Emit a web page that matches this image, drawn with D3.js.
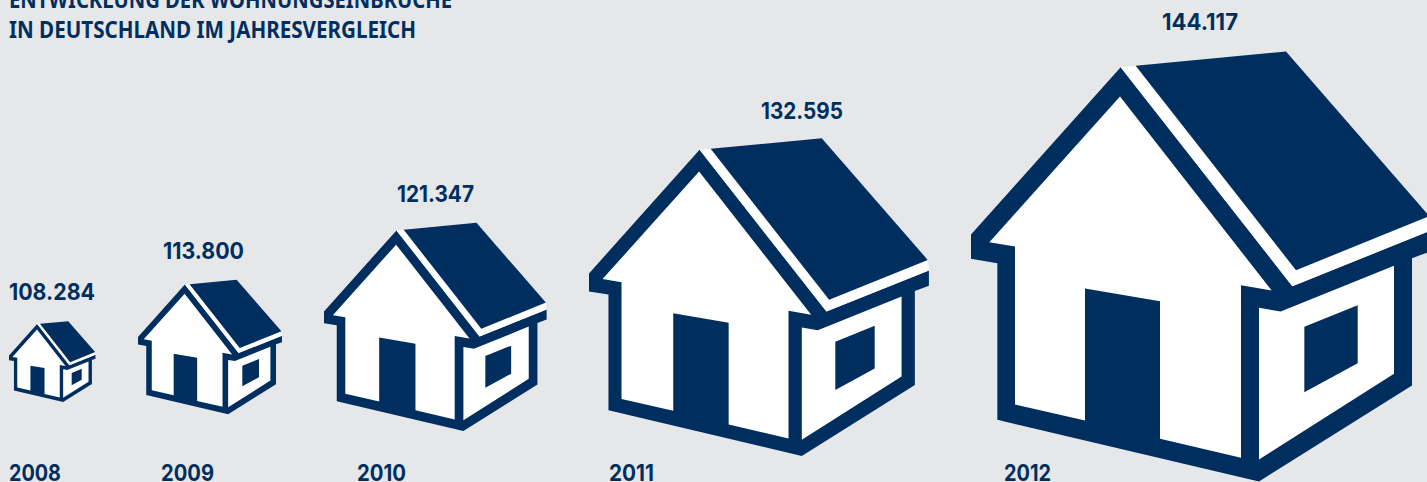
<!DOCTYPE html>
<html><head><meta charset="utf-8">
<script src="https://cdn.jsdelivr.net/npm/d3@7"></script>
<style>
html,body{margin:0;padding:0;background:#e6e7e9;overflow:hidden}
text{font-family:"Noto Sans",sans-serif;font-weight:700;fill:#002f5f}
text.val,text.yr{font-family:Inter,"Noto Sans",sans-serif}
</style></head><body><svg id="c" width="1427" height="482"></svg>
<script>
const years = ["2008","2009","2010","2011","2012"];
const burglaries = [108284,113800,121347,132595,144117];
const valueLabels = ["108.284","113.800","121.347","132.595","144.117"];
const titleLines = ["ENTWICKLUNG DER WOHNUNGSEINBRÜCHE","IN DEUTSCHLAND IM JAHRESVERGLEICH"];

const navy="#002f5f", white="#ffffff", W=1427, H=482;
const svg=d3.select("#c");
svg.append("rect").attr("width",W).attr("height",H).attr("fill","#e6e7e9");

// House glyph outline, in glyph units (1 unit = 1/3 px at full size)
const glyph={
 frame:[[33,702],[482,200],[997,857],[1413,690],[1413,752],[1356,773],[1356,1155],[897,1443],[112,1258],[112,788],[33,775]],
 front:[[480,288],[935,870],[843,854],[843,1372],[600,1315],[600,902],[375,864],[375,1260],[165,1212],[165,738],[88,725]],
 side:[[897,922],[962,933],[1302,796],[1302,1120],[897,1377]],
 win:[[1033,979],[1193,914],[1193,1088],[1033,1175]],
 stripe:[[482,200],[527,196],[1008,809],[1408,648],[1413,690],[997,857]],
 roof:[[527,196],[978,153],[1408,647],[1008,809]]
};
const parts=[["frame",navy],["front",white],["side",white],["win",navy],["stripe",white],["roof",navy]];

// size grows linearly with the value
const size=d3.scaleLinear().domain([108284,144117]).range([0.188,1]);
const bottom=d3.scaleLinear().domain([108284,144117]).range([402,481.5]);
const left=d3.scaleOrdinal(years,[9,138,324,589,971]);
const yearX=d3.scaleOrdinal(years,[9,161,357,609,1004]);
const yearW=d3.scaleOrdinal(years,[52,53,49,45,47]);
const valueX=d3.scaleOrdinal(years,[52,203.5,435.5,802,1200]);
const valueY=d3.scaleOrdinal(years,[300,259,202,119,30]);
const valueW=d3.scaleOrdinal(years,[86,81,77,82,76]);

years.forEach((yr,i)=>{
  const v=burglaries[i], s=size(v);
  const x=d3.scaleLinear().domain([33,1413]).range([left(yr),left(yr)+460*s]);
  const y=d3.scaleLinear().domain([1443,153]).range([bottom(v),bottom(v)-430*s]);
  const line=d3.line().x(d=>x(d[0])).y(d=>y(d[1])).curve(d3.curveLinearClosed);
  const g=svg.append("g").attr("class","house");
  g.selectAll("path").data(parts).join("path")
    .attr("d",d=>line(glyph[d[0]])).attr("fill",d=>d[1]);
});

svg.selectAll("text.val").data(valueLabels).join("text").attr("class","val")
  .attr("x",(d,i)=>valueX(years[i])).attr("y",(d,i)=>valueY(years[i]))
  .attr("text-anchor","middle").attr("font-size",23).text(d=>d)
  .attr("textLength",(d,i)=>valueW(years[i])).attr("lengthAdjust","spacingAndGlyphs");
svg.selectAll("text.yr").data(years).join("text").attr("class","yr")
  .attr("x",d=>yearX(d)).attr("y",481).attr("font-size",23).text(d=>d)
  .attr("textLength",d=>yearW(d)).attr("lengthAdjust","spacingAndGlyphs");
const titleW=d3.scaleOrdinal(titleLines,[443,407]);
svg.selectAll("text.ttl").data(titleLines).join("text").attr("class","ttl")
  .attr("x",9).attr("y",(d,i)=>8+i*30).attr("font-size",24).text(d=>d)
  .attr("textLength",d=>titleW(d)).attr("lengthAdjust","spacingAndGlyphs");
</script></body></html>
